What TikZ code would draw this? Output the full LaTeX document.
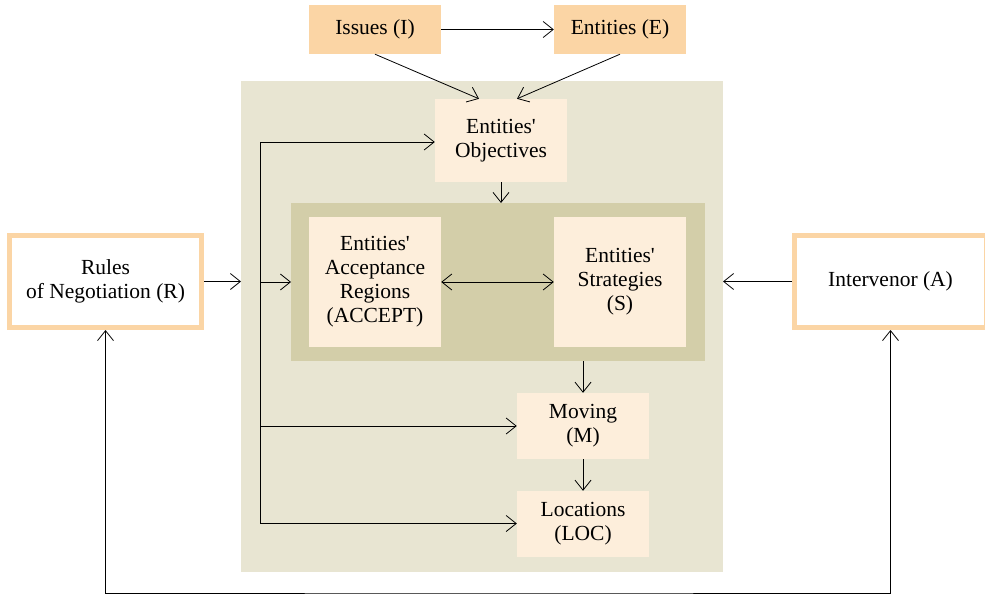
\documentclass[tikz,border=0pt]{standalone}
\usepackage{fontspec}
\setmainfont{Liberation Serif}
\usetikzlibrary{arrows.meta}
\definecolor{peach}{HTML}{FBD5A5}
\definecolor{cream}{HTML}{FDEEDB}
\definecolor{sage}{HTML}{E8E5D2}
\definecolor{olive}{HTML}{D3CEA9}
\tikzset{
	box/.style={fill=cream, minimum width=132pt, align=center, inner sep=0pt},
	topbox/.style={box, fill=peach, minimum height=49pt},
	sidebox/.style={box, fill=white, draw=peach, line width=5pt, minimum width=192pt, minimum height=92pt},
	panel/.style={inner sep=0pt, outer sep=0pt},
	conn/.style={-{Straight Barb[length=10pt,width=16pt]}, line width=0.8pt},
	both/.style={{Straight Barb[length=10pt,width=16pt]}-{Straight Barb[length=10pt,width=16pt]}, line width=0.8pt},
}

\begin{document}
\begin{tikzpicture}[x=1pt, y=-1pt, font=\fontsize{21.5}{24}\selectfont]
	\useasboundingbox (0,0) rectangle (985,594);
	% backgrounds
	\node (field) [panel, fill=sage, minimum width=482pt, minimum height=491pt] at (482,326.5) {};
	\node (core) [panel, fill=olive, minimum width=414pt, minimum height=158pt] at (498,282) {};
	% boxes
	\node (issues) [topbox] at (375,29.5) {Issues (I)};
	\node (ent) [topbox] at (620,29.5) {Entities (E)};
	\node (obj) [box, minimum height=83pt] at (501,140.5) {Entities\textquotesingle\\Objectives};
	\node (acc) [box, minimum height=130pt] at (375,282) {Entities\textquotesingle\\Acceptance\\Regions\\(ACCEPT)};
	\node (strat) [box, minimum height=130pt] at (620,282) {Entities\textquotesingle\\Strategies\\(S)};
	\node (mov) [box, minimum height=66pt] at (583,426) {Moving\\(M)};
	\node (loc) [box, minimum height=66pt] at (583,524) {Locations\\(LOC)};
	\node (rules) [sidebox] at (105.5,281.5) {Rules\\of Negotiation (R)};
	\node (inter) [sidebox] at (890.5,281.5) {Intervenor (A)};
	\coordinate (busTop) at (260,142);
	\coordinate (busMid) at (260,282);
	\coordinate (busBot) at (260,523.5);
	\coordinate (loop) at (500,593);
	% connectors
	\draw[conn] (issues) -- (ent);
	\draw[conn] (issues.south) -- ([xshift=-22pt]obj.north);
	\draw[conn] (ent.south) -- ([xshift=16pt]obj.north);
	\draw[conn] (obj.south) -- (obj.south |- core.north);
	\draw[conn] (rules.east) -- (rules.east -| field.west);
	\draw[line width=0.8pt] (busTop) -- (busBot);
	\draw[conn] (busTop) -- (busTop -| obj.west);
	\draw[conn] (busMid) -- (core.west);
	\draw[conn] (busMid |- mov.west) -- (mov.west);
	\draw[conn] (busBot) -- (busBot -| loc.west);
	\draw[both] (acc.east) -- (strat.west);
	\draw[conn] (mov.north |- core.south) -- (mov.north);
	\draw[conn] (mov) -- (loc);
	\draw[conn] (inter.west) -- (inter.west -| field.east);
	\draw[both] (rules.south) |- (loop) -| (inter.south);
\end{tikzpicture}
\end{document}
